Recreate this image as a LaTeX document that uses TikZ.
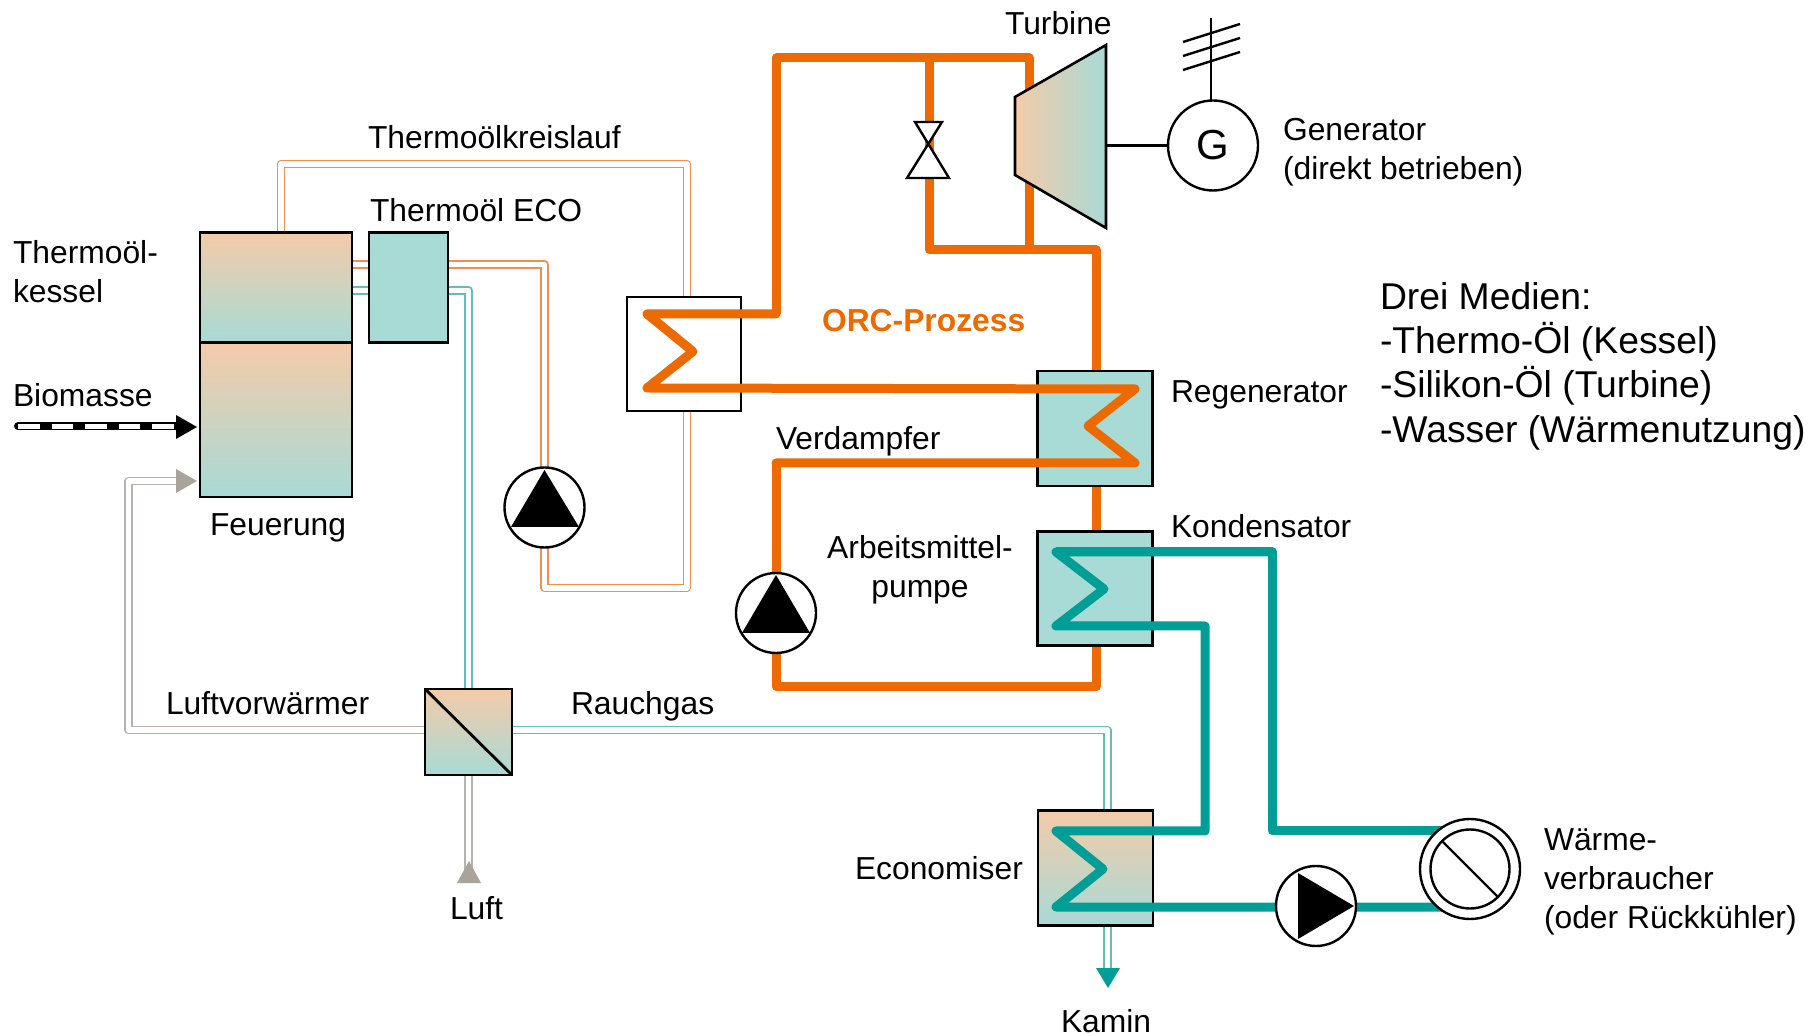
\documentclass[tikz,border=0pt]{standalone}
\usepackage{fontspec}
\setmainfont{Liberation Sans}
\definecolor{orc}{HTML}{EC6A00}
\definecolor{wat}{HTML}{009E96}
\definecolor{oilthin}{HTML}{F08F4E}
\definecolor{gasthin}{HTML}{62BFB8}
\definecolor{airthin}{HTML}{B7B3AC}
\definecolor{airtip}{HTML}{A8A49C}
\definecolor{gtop}{HTML}{F4CBA9}
\definecolor{gbot}{HTML}{A8DAD6}
\tikzset{
  unitbox/.style={draw=black,line width=1.4pt,inner sep=0pt,outer sep=0pt},
  gradbox/.style={unitbox,top color=gtop,bottom color=gbot},
  tealbox/.style={unitbox,fill=gbot},
  whitebox/.style={unitbox,fill=white},
  rotor/.style={circle,draw=black,fill=white,line width=1.2pt,inner sep=0pt,outer sep=0pt},
  oilpipe/.style={draw=oilthin,line width=0.9pt,double=white,double distance=2.6pt,line join=round},
  gaspipe/.style={draw=gasthin,line width=0.9pt,double=white,double distance=2.6pt,line join=round},
  airpipe/.style={draw=airthin,line width=0.9pt,double=white,double distance=2.6pt,line join=round},
  orcpipe/.style={draw=orc,line width=4.5pt,line cap=round,line join=round},
  watpipe/.style={draw=wat,line width=4.5pt,line cap=round,line join=round},
  blk/.style={draw=black,line width=1.2pt},
  lbl/.style={inner sep=0pt,outer sep=0pt,anchor=base west,yshift=-0.5pt,font=\fontsize{15.9}{19.5}\selectfont},
  mlbl/.style={inner sep=0pt,outer sep=0pt,anchor=north west,align=left,font=\fontsize{15.9}{19.5}\selectfont},
}
\begin{document}
\begin{tikzpicture}[x=0.5pt,y=-0.5pt]
\useasboundingbox (0,0) rectangle (1810,1036);

% waypoints
\coordinate (oilA) at (281,236);
\coordinate (oilB) at (281,164);
\coordinate (oilC) at (687,164);
\coordinate (oilD) at (687,300);
\coordinate (oilE) at (687,408);
\coordinate (oilF) at (687,588);
\coordinate (oilG) at (544.5,588);
\coordinate (oilH) at (544.5,264.5);
\coordinate (oilI) at (350,264.5);
\coordinate (gasA) at (350,290.5);
\coordinate (gasB) at (468.5,290.5);
\coordinate (gasC) at (468.5,692);
\coordinate (gasD) at (510,730);
\coordinate (gasE) at (1107.5,730);
\coordinate (gasF) at (1107.5,814);
\coordinate (gasG) at (1107.5,923);
\coordinate (gasH) at (1107.5,975);
\coordinate (airA) at (468.5,772);
\coordinate (airB) at (468.5,872);
\coordinate (airC) at (428,730);
\coordinate (airD) at (128.5,730);
\coordinate (airE) at (128.5,481);
\coordinate (airF) at (180,481);

% double thin pipes
\draw[oilpipe] (oilA) -- (oilB) -- (oilC) -- (oilD);
\draw[oilpipe] (oilE) -- (oilF) -- (oilG) -- (oilH) -- (oilI);
\draw[gaspipe] (gasA) -- (gasB) -- (gasC);
\draw[gaspipe] (gasD) -- (gasE) -- (gasF);
\draw[gaspipe] (gasG) -- (gasH);
\draw[airpipe] (airA) -- (airB);
\draw[airpipe] (airC) -- (airD) -- (airE) -- (airF);

% ORC loop parts behind the boxes
\coordinate (orcTL) at (776,58);
\coordinate (orcTR) at (1029,58);
\coordinate (orcLow) at (1029,250);
\coordinate (orcBy) at (929,58);
\coordinate (orcByL) at (929,250);
\coordinate (orcR) at (1096,250);
\coordinate (orcRegT) at (1096,375);
\coordinate (orcRegB) at (1096,482);
\coordinate (orcKonT) at (1096,536);
\coordinate (orcKonB) at (1096,642);
\coordinate (orcBR) at (1096,687);
\coordinate (orcBL) at (776,687);
\coordinate (orcVL) at (776,463);
\coordinate (orcHX) at (776,314);
\draw[orcpipe,line cap=butt] (orcHX) -- (orcTL) -- (orcTR) -- (orcLow);
\draw[orcpipe,line cap=butt] (orcBy) -- (orcByL) -- (orcR) -- (orcRegT);
\draw[orcpipe,line cap=butt] (orcRegB) -- (orcKonT);
\draw[orcpipe,line cap=butt] (orcKonB) -- (orcBR) -- (orcBL) -- (orcVL);

% boxes
\node[gradbox,minimum width=76pt,minimum height=55pt] (kessel) at (276,287.5) {};
\node[gradbox,minimum width=76pt,minimum height=77pt] (feuer) at (276,420) {};
\node[tealbox,minimum width=39.5pt,minimum height=55pt] (eco) at (408.5,287.5) {};
\node[whitebox,minimum width=57pt,minimum height=57pt] (hx) at (684,354) {};
\node[gradbox,minimum width=43.5pt,minimum height=43pt] (luvo) at (468.5,732) {};
\draw[blk,line width=1.4pt] (luvo.north west) -- (luvo.south east);
\node[tealbox,minimum width=57.5pt,minimum height=57.5pt] (regen) at (1095,428.5) {};
\node[tealbox,minimum width=57.5pt,minimum height=57pt] (kond) at (1095,588.5) {};
\node[gradbox,minimum width=57.5pt,minimum height=57.5pt] (econ) at (1095.5,868) {};

% heat exchanger coils
\coordinate (hxA) at (776,314);
\coordinate (hxB) at (647,314);
\coordinate (hxC) at (693,351.5);
\coordinate (hxD) at (647,388);
\coordinate (regA) at (1135,389);
\coordinate (regB) at (1088,426);
\coordinate (regC) at (1135,463);
\draw[orcpipe] (hxA) -- (hxB) -- (hxC) -- (hxD) -- (regA) -- (regB) -- (regC) -- (orcVL);

% water circuit
\coordinate (conA) at (1056,552);
\coordinate (conB) at (1104,589);
\coordinate (conC) at (1056,626);
\coordinate (conD) at (1272,552);
\coordinate (conE) at (1205,626);
\coordinate (ecoA) at (1205,831);
\coordinate (ecoB) at (1056,831);
\coordinate (ecoC) at (1103,869);
\coordinate (ecoD) at (1056,907);
\coordinate (useA) at (1272,831);
\coordinate (useB) at (1450,831);
\coordinate (useC) at (1450,907);
\draw[watpipe,line cap=butt] (useB) -- (useA) -- (conD) -- (conA);
\draw[watpipe] (conD) -- (conA) -- (conB) -- (conC) -- (conE) -- (ecoA) -- (ecoB) -- (ecoC) -- (ecoD) -- (useC);

% thermal oil pump
\node[rotor,minimum size=40pt] (oilpump) at (544.5,507.5) {};
\fill[black] (544.5,470) -- (579,527) -- (511,527) -- cycle;

% ORC pump
\node[rotor,minimum size=40pt] (orcpump) at (776,613) {};
\fill[black] (776,575) -- (810,633) -- (742,633) -- cycle;

% water pump
\node[rotor,minimum size=40pt] (watpump) at (1316,906) {};
\fill[black] (1298,873) -- (1354,906) -- (1298,939) -- cycle;

% consumer
\node[rotor,minimum size=50pt] (verb) at (1470,869) {};
\node[rotor,minimum size=39.5pt] (verbin) at (1470,869) {};
\draw[blk] (verbin.north west) -- (verbin.south east);

% bypass valve
\coordinate (vTL) at (915,122);
\coordinate (vTR) at (942,122);
\coordinate (vBL) at (907,178);
\coordinate (vBR) at (949,178);
\coordinate (vM) at (929,144);
\fill[white] (vTL) -- (vTR) -- (vM) -- (vBR) -- (vBL) -- (vM) -- cycle;
\draw[blk,line join=miter] (vTL) -- (vTR) -- (vBL) -- (vBR) -- cycle;

% turbine
\coordinate (tuA) at (1015,97);
\coordinate (tuB) at (1106,45);
\coordinate (tuC) at (1106,228);
\coordinate (tuD) at (1015,175);
\coordinate (tuS) at (1106,145.5);
\path[left color=gtop,right color=gbot] (tuA) -- (tuB) -- (tuC) -- (tuD) -- cycle;
\draw[blk,line width=1.3pt,line join=miter] (tuA) -- (tuB) -- (tuC) -- (tuD) -- cycle;

% generator
\node[rotor,minimum size=45pt,font=\fontsize{21}{25}\selectfont] (gen) at (1213,145.5) {G};
\draw[blk] (tuS) -- (gen.west);
\coordinate (genTop) at (1211,18);
\draw[blk] (genTop) -- (gen.north -| genTop);
\coordinate (t1a) at (1183,42);
\coordinate (t1b) at (1240,24);
\coordinate (t2a) at (1183,56);
\coordinate (t2b) at (1240,38);
\coordinate (t3a) at (1183,70);
\coordinate (t3b) at (1240,52);
\draw[blk] (t1a) -- (t1b);
\draw[blk] (t2a) -- (t2b);
\draw[blk] (t3a) -- (t3b);

% arrow heads
\fill[airtip] (176,469) -- (197,481) -- (176,493) -- cycle;
\fill[airtip] (457,883) -- (469,861) -- (481,883) -- cycle;
\fill[wat] (1096,968) -- (1120,968) -- (1108,988) -- cycle;

% Biomasse arrow
\coordinate (bioA) at (18,426.5);
\coordinate (bioB) at (180,426.5);
\draw[black,line width=4pt,line cap=round] (bioA) -- (bioB);
\draw[white,line width=2.4pt,dash pattern=on 10.8pt off 6pt] (bioA) -- (bioB);
\fill[black] (176,415) -- (197,427) -- (176,439) -- cycle;

% labels
\node[lbl] (l1) at (368,148) {Thermoölkreislauf};
\node[lbl] (l2) at (370,221) {Thermoöl ECO};
\node[mlbl] (l3) at (13,240) {Thermoöl-\\kessel};
\node[lbl] (l4) at (13,406) {Biomasse};
\node[lbl] (l5) at (210,535) {Feuerung};
\node[lbl] (l6) at (1005,34) {Turbine};
\node[mlbl] (l7) at (1283,118) {Generator\\(direkt betrieben)};
\node[lbl,font=\fontsize{15.9}{19}\selectfont\bfseries,text=orc] (l8) at (822,331) {ORC-Prozess};
\node[lbl] (l9) at (1171,402) {Regenerator};
\node[lbl] (l10) at (776,449) {Verdampfer};
\node[mlbl,align=center,anchor=north] (l11) at (920,535) {Arbeitsmittel-\\pumpe};
\node[lbl] (l12) at (1171,537) {Kondensator};
\node[lbl] (l13) at (166,714) {Luftvorwärmer};
\node[lbl] (l14) at (571,714) {Rauchgas};
\node[lbl] (l15) at (450,918) {Luft};
\node[lbl] (l16) at (1061,1031) {Kamin};
\node[lbl] (l17) at (855,878) {Economiser};
\node[mlbl] (l18) at (1544,829) {Wärme-\\verbraucher\\(oder Rückkühler)};
\node[mlbl,font=\fontsize{18.65}{22.2}\selectfont] (l19) at (1380,282) {Drei Medien:\\-Thermo-Öl (Kessel)\\-Silikon-Öl (Turbine)\\-Wasser (Wärmenutzung)};
\end{tikzpicture}
\end{document}
